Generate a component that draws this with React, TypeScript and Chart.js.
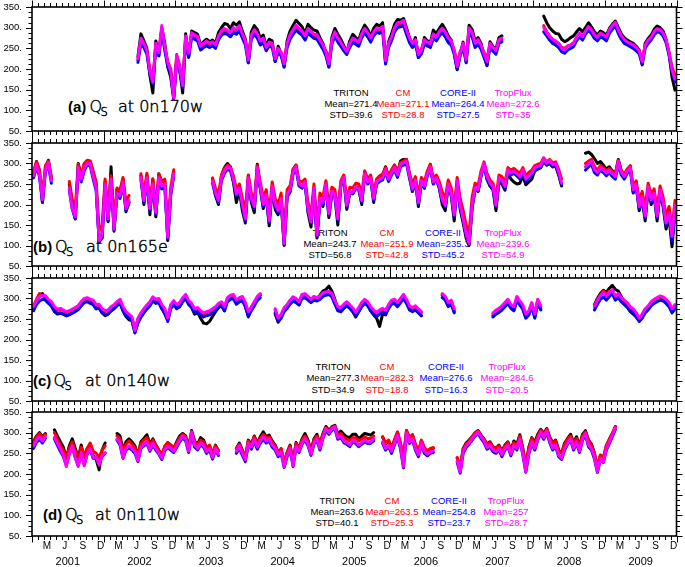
import React, { useEffect, useRef } from "react";
import { Chart, registerables } from "chart.js";

Chart.register(...registerables);

// ---------- axis data ----------
const X_MIN = 0; // months since Jan 2001
const X_MAX = 108; // Jan 2010
const SAMPLE_OFFSET = 0.25; // first half-month sample (months)
const SAMPLE_STEP = 0.5; // half-month sampling
const YEARS = [2001, 2002, 2003, 2004, 2005, 2006, 2007, 2008, 2009];
const MONTH_LABELS = ["M", "J", "S", "D"];
const MONTH_LABEL_MONTHS = [2, 5, 8, 11];
const Y_MIN = 50;
const Y_MAX = 350;
const Y_STEP = 50;
const Y_MINOR = 12.5;
const SERIES_NAMES = ["TRITON", "CM", "CORE-II", "TropFlux"];
const SERIES_COLORS = ["#000000", "#ff0000", "#0000ff", "#ff00ff"];

// ---------- panel (a) 0n170w ----------
const A_STARTS = [35, 171];
const A_TRITON = [
  [230, 285, 268, 250, 185, 142, 268, 232, 300, 262,
   205, 180, 128, 225, 198, 142, 285, 230, 292, 288,
   284, 258, 266, 272, 266, 270, 262, 288, 300, 310,
   308, 298, 312, 306, 314, 292, 272, 215, 290, 305,
   296, 275, 282, 256, 272, 268, 218, 255, 238, 205,
   268, 292, 305, 318, 310, 302, 286, 308, 300, 294,
   292, 276, 262, 236, 205, 276, 298, 284, 272, 256,
   240, 268, 284, 276, 270, 292, 306, 296, 280, 298,
   308, 304, 312, 214, 266, 285, 308, 320, 318, 322,
   300, 276, 258, 276, 228, 240, 276, 268, 264, 294,
   286, 298, 308, 296, 280, 270, 238, 198, 236, 265,
   218, 306, 296, 268, 276, 262, 232, 208, 266, 254,
   248, 276, 280],
  [328, 312, 300, 292, 286, 285, 272, 266, 270, 276,
   280, 290, 298, 290, 300, 312, 302, 290, 282, 292,
   288, 282, 298, 308, 316, 300, 285, 276, 270, 266,
   262, 255, 246, 210, 262, 274, 282, 296, 304, 300,
   292, 272, 236, 180, 149],
];
const A_CM = [
  [222, 270, 260, 242, 200, 175, 258, 242, 296, 252,
   218, 200, 142, 235, 208, 172, 272, 240, 282, 278,
   272, 252, 258, 264, 258, 262, 255, 276, 288, 292,
   290, 284, 295, 290, 300, 282, 265, 230, 278, 290,
   280, 265, 270, 250, 262, 255, 232, 246, 240, 220,
   258, 278, 290, 300, 294, 288, 276, 292, 286, 280,
   280, 268, 256, 244, 222, 266, 285, 272, 262, 250,
   245, 258, 270, 266, 262, 280, 292, 284, 272, 285,
   294, 290, 298, 228, 258, 274, 294, 305, 306, 312,
   292, 272, 262, 268, 240, 248, 266, 262, 258, 280,
   282, 286, 292, 285, 272, 265, 246, 215, 242, 258,
   228, 292, 284, 260, 268, 255, 240, 226, 258, 250,
   246, 266, 270],
  [305, 290, 280, 270, 265, 262, 252, 250, 256, 258,
   264, 275, 285, 276, 290, 300, 292, 280, 275, 285,
   280, 275, 292, 302, 310, 292, 278, 268, 264, 260,
   256, 250, 242, 222, 255, 268, 275, 288, 295, 292,
   284, 268, 240, 205, 185],
];
const A_CORE = [
  [216, 262, 252, 236, 188, 165, 252, 232, 292, 245,
   206, 188, 128, 222, 196, 155, 268, 228, 276, 272,
   268, 246, 252, 256, 252, 256, 250, 270, 282, 286,
   284, 278, 288, 284, 292, 275, 258, 215, 272, 284,
   275, 258, 264, 244, 256, 252, 218, 240, 232, 205,
   252, 272, 284, 294, 287, 282, 270, 286, 280, 274,
   272, 260, 248, 232, 205, 260, 280, 265, 255, 244,
   235, 252, 265, 260, 255, 275, 288, 278, 265, 280,
   289, 286, 292, 212, 252, 268, 290, 300, 302, 306,
   284, 264, 252, 260, 228, 236, 260, 256, 252, 274,
   268, 280, 288, 278, 264, 258, 236, 200, 232, 252,
   215, 288, 278, 252, 260, 248, 228, 210, 252, 243,
   236, 262, 266],
  [290, 280, 270, 262, 258, 252, 242, 238, 246, 250,
   254, 268, 278, 270, 284, 294, 286, 274, 268, 278,
   274, 268, 286, 296, 304, 286, 272, 262, 258, 254,
   250, 244, 236, 212, 250, 262, 270, 282, 290, 288,
   280, 264, 234, 195, 168],
];
const A_TROPFLUX = [
  [225, 275, 262, 245, 195, 168, 262, 240, 305, 255,
   215, 195, 130, 232, 205, 160, 280, 238, 288, 283,
   278, 255, 262, 268, 262, 266, 258, 280, 292, 298,
   294, 288, 300, 295, 305, 285, 268, 222, 282, 295,
   285, 268, 275, 252, 265, 262, 225, 250, 240, 212,
   262, 283, 295, 306, 298, 292, 280, 298, 290, 285,
   283, 270, 258, 240, 212, 270, 290, 275, 265, 252,
   243, 262, 275, 270, 265, 285, 298, 288, 275, 290,
   299, 296, 303, 220, 262, 278, 300, 312, 312, 318,
   295, 275, 262, 271, 235, 245, 271, 265, 262, 285,
   277, 290, 299, 289, 275, 268, 244, 206, 240, 262,
   222, 299, 289, 262, 271, 258, 236, 218, 262, 252,
   245, 271, 275],
  [300, 288, 278, 272, 268, 262, 250, 246, 255, 258,
   262, 277, 287, 278, 292, 303, 295, 282, 277, 287,
   282, 277, 295, 305, 313, 295, 280, 271, 266, 262,
   258, 252, 244, 218, 258, 270, 277, 290, 298, 295,
   287, 271, 240, 198, 175],
];
const A_MEAN = ["271.4", "271.1", "264.4", "272.6"];
const A_STD = ["39.6", "28.8", "27.5", "35"];

// ---------- panel (b) 0n165e ----------
const B_STARTS = [0, 12, 36, 60, 185];
const B_TRITON = [
  [272, 305, 280, 205, 290, 308, 262],
  [250, 200, 165, 300, 270, 298, 306, 305, 278, 248, 108, 118, 255, 158, 292, 135, 238, 230, 262, 182, 205],
  [270, 200, 272, 175, 262, 170, 275, 255, 258, 112, 225, 280],
  [262, 222, 200, 270, 290, 300, 292, 255, 205, 235,
   185, 155, 270, 205, 180, 298, 240, 190, 220, 148,
   242, 188, 175, 205, 100, 218, 232, 285, 296, 248,
   242, 258, 180, 145, 236, 118, 208, 195, 252, 168,
   228, 220, 150, 248, 268, 188, 228, 226, 240, 238,
   200, 278, 252, 268, 205, 258, 265, 270, 292, 265,
   282, 296, 276, 306, 310, 310, 272, 232, 262, 195,
   260, 240, 278, 298, 252, 266, 240, 200, 185, 248,
   222, 160, 255, 188, 155, 118, 100, 190, 238, 232,
   270, 296, 262, 245, 236, 185, 255, 250, 235, 275,
   262, 255, 250, 252, 270, 248, 255, 262, 282, 286,
   290, 305, 296, 300, 292, 294, 272, 245],
  [325, 328, 322, 312, 300, 305, 296, 286, 292, 282,
   275, 310, 282, 272, 286, 294, 228, 246, 185, 212,
   160, 240, 200, 222, 160, 232, 195, 140, 168, 97, 185],
];
const B_CM = [
  [280, 304, 285, 220, 295, 306, 268],
  [256, 212, 190, 298, 272, 300, 308, 306, 282, 255, 135, 150, 262, 185, 270, 160, 240, 235, 266, 205, 222],
  [275, 225, 276, 205, 262, 195, 274, 256, 262, 140, 242, 285],
  [265, 240, 225, 272, 288, 296, 292, 270, 238, 250,
   215, 185, 272, 228, 210, 295, 255, 215, 236, 178,
   255, 215, 200, 228, 130, 236, 246, 286, 296, 258,
   255, 262, 205, 175, 250, 145, 228, 218, 258, 195,
   242, 236, 185, 258, 272, 212, 242, 240, 252, 250,
   225, 282, 262, 272, 230, 262, 270, 274, 290, 270,
   285, 296, 280, 302, 306, 310, 278, 250, 268, 222,
   266, 255, 282, 298, 265, 272, 256, 230, 215, 260,
   240, 192, 266, 215, 185, 150, 130, 218, 252, 246,
   282, 304, 275, 260, 252, 215, 272, 268, 254, 290,
   284, 288, 282, 276, 290, 270, 278, 284, 295, 298,
   300, 314, 304, 310, 302, 304, 286, 262],
  [300, 306, 310, 292, 284, 295, 290, 282, 288, 280,
   274, 308, 282, 274, 286, 294, 246, 258, 210, 232,
   190, 252, 225, 238, 188, 245, 218, 172, 195, 140, 210],
];
const B_CORE = [
  [265, 292, 268, 205, 280, 296, 252],
  [235, 188, 165, 284, 255, 282, 296, 294, 262, 234, 110, 122, 245, 160, 256, 138, 222, 215, 250, 186, 205],
  [260, 205, 258, 186, 244, 176, 258, 238, 244, 118, 225, 268],
  [252, 222, 205, 258, 276, 286, 282, 256, 220, 234,
   195, 160, 258, 210, 190, 284, 240, 195, 220, 155,
   240, 195, 180, 210, 102, 220, 230, 274, 286, 245,
   240, 250, 186, 155, 235, 122, 210, 200, 244, 174,
   228, 222, 162, 245, 260, 194, 228, 226, 240, 236,
   206, 270, 250, 260, 210, 250, 256, 260, 280, 256,
   272, 284, 266, 292, 296, 300, 264, 232, 254, 200,
   252, 240, 270, 286, 250, 260, 240, 208, 194, 245,
   224, 172, 252, 194, 162, 126, 104, 196, 238, 232,
   270, 295, 262, 246, 238, 194, 260, 255, 238, 280,
   272, 276, 270, 262, 280, 256, 264, 272, 284, 288,
   290, 306, 296, 302, 292, 295, 274, 248],
  [284, 292, 298, 278, 272, 284, 278, 270, 278, 268,
   262, 298, 272, 262, 276, 284, 230, 244, 190, 214,
   168, 238, 206, 222, 168, 230, 200, 150, 175, 110, 192],
];
const B_TROPFLUX = [
  [270, 298, 272, 212, 285, 303, 258],
  [240, 190, 170, 290, 262, 289, 302, 300, 268, 240, 112, 125, 250, 165, 262, 140, 228, 222, 255, 190, 210],
  [266, 210, 265, 190, 250, 180, 265, 245, 250, 120, 230, 275],
  [258, 228, 210, 265, 282, 292, 288, 262, 225, 240,
   200, 165, 265, 215, 195, 290, 245, 200, 225, 160,
   245, 200, 185, 215, 105, 225, 236, 280, 292, 250,
   245, 255, 190, 158, 240, 125, 215, 205, 250, 178,
   232, 226, 165, 250, 266, 198, 232, 230, 244, 240,
   210, 275, 255, 265, 215, 255, 262, 266, 285, 262,
   278, 290, 272, 298, 302, 305, 270, 238, 260, 205,
   258, 245, 275, 292, 255, 265, 245, 212, 198, 250,
   228, 175, 258, 198, 165, 128, 105, 200, 242, 236,
   275, 300, 268, 252, 244, 198, 265, 260, 244, 285,
   277, 282, 275, 268, 285, 262, 270, 277, 290, 293,
   296, 312, 301, 308, 297, 300, 280, 252],
  [292, 300, 305, 285, 278, 290, 285, 277, 284, 275,
   268, 305, 278, 268, 282, 290, 236, 250, 195, 220,
   172, 244, 212, 228, 172, 236, 205, 155, 180, 122, 200],
];
const B_MEAN = ["243.7", "251.9", "235.3", "239.6"];
const B_STD = ["56.8", "42.8", "45.2", "54.9"];

// ---------- panel (c) 0n140w ----------
const C_STARTS = [0, 81, 137, 154, 188];
const C_TRITON = [
  [275, 290, 310, 312, 300, 290, 282, 268, 262, 264,
   262, 258, 262, 266, 270, 275, 286, 294, 296, 290,
   288, 275, 278, 265, 258, 262, 270, 276, 286, 292,
   270, 256, 248, 246, 218, 240, 255, 266, 276, 285,
   298, 292, 294, 276, 262, 248, 278, 290, 276, 282,
   296, 306, 288, 278, 262, 266, 252, 240, 238, 244,
   256, 268, 278, 286, 270, 296, 304, 306, 290, 296,
   300, 282, 255, 272, 286, 300, 308],
  [262, 242, 255, 272, 280, 292, 300, 296, 290, 308,
   310, 302, 296, 304, 300, 308, 318, 322, 330, 318,
   298, 272, 268, 276, 284, 278, 268, 255, 268, 282,
   290, 285, 270, 260, 252, 232, 262, 260, 278, 290,
   292, 284, 294, 306, 292, 276, 270, 274, 266, 258],
  [308, 300, 285, 290, 268],
  [258, 266, 270, 278, 285, 292, 278, 272, 300, 290, 276, 255, 262, 284, 255, 292, 275],
  [285, 300, 312, 320, 315, 325, 332, 322, 318, 305,
   290, 280, 268, 262, 255, 246, 256, 270, 278, 288,
   296, 300, 304, 300, 292, 284, 270, 278],
];
const C_CM = [
  [282, 298, 312, 306, 304, 295, 288, 278, 272, 274,
   270, 266, 268, 272, 276, 280, 290, 298, 300, 296,
   294, 282, 284, 272, 268, 270, 278, 282, 290, 296,
   278, 266, 260, 252, 226, 250, 262, 272, 282, 290,
   300, 296, 298, 282, 272, 252, 282, 292, 282, 288,
   300, 306, 292, 285, 272, 275, 268, 262, 265, 268,
   272, 278, 285, 290, 278, 300, 305, 308, 294, 300,
   302, 288, 265, 278, 290, 302, 308],
  [272, 248, 258, 275, 282, 294, 302, 298, 290, 306,
   310, 302, 296, 302, 300, 304, 312, 314, 316, 310,
   292, 278, 274, 284, 290, 282, 274, 262, 275, 288,
   296, 290, 278, 270, 262, 268, 272, 268, 282, 294,
   296, 288, 298, 306, 295, 280, 275, 280, 272, 265],
  [310, 304, 288, 294, 272],
  [262, 270, 274, 280, 288, 296, 282, 278, 302, 292, 280, 260, 268, 288, 260, 296, 280],
  [280, 294, 306, 318, 310, 318, 316, 304, 310, 300,
   294, 288, 278, 272, 262, 250, 260, 272, 280, 290,
   296, 300, 304, 302, 296, 288, 272, 282],
];
const C_CORE = [
  [270, 285, 294, 298, 296, 288, 282, 270, 264, 265,
   262, 258, 260, 264, 268, 273, 282, 290, 292, 288,
   285, 275, 276, 265, 260, 262, 270, 275, 282, 288,
   270, 258, 252, 246, 216, 242, 255, 265, 274, 282,
   294, 288, 290, 275, 265, 244, 275, 285, 275, 280,
   292, 300, 285, 278, 265, 268, 260, 255, 258, 260,
   265, 270, 278, 282, 270, 292, 298, 300, 286, 292,
   295, 280, 258, 270, 282, 295, 302],
  [265, 245, 252, 268, 276, 286, 294, 290, 284, 300,
   302, 296, 290, 296, 294, 298, 305, 308, 310, 304,
   286, 270, 268, 276, 282, 276, 268, 258, 268, 280,
   288, 282, 270, 262, 256, 262, 266, 262, 275, 286,
   288, 280, 290, 300, 288, 272, 268, 272, 265, 258],
  [302, 296, 280, 286, 265],
  [255, 262, 266, 272, 280, 288, 276, 270, 295, 284, 274, 252, 260, 280, 252, 288, 272],
  [272, 286, 298, 304, 296, 305, 312, 296, 302, 292,
   285, 278, 270, 265, 255, 244, 252, 265, 272, 282,
   288, 292, 296, 294, 288, 280, 265, 275],
];
const C_TROPFLUX = [
  [280, 295, 304, 308, 307, 298, 292, 280, 274, 276,
   272, 268, 270, 274, 278, 283, 292, 300, 302, 298,
   296, 285, 286, 275, 270, 272, 280, 285, 292, 298,
   280, 268, 262, 255, 222, 252, 265, 275, 284, 292,
   304, 298, 300, 285, 275, 252, 285, 295, 285, 290,
   302, 310, 295, 288, 275, 278, 270, 265, 268, 270,
   275, 280, 288, 292, 280, 302, 308, 310, 296, 302,
   305, 290, 268, 280, 292, 305, 312],
  [275, 252, 262, 278, 285, 296, 304, 300, 292, 310,
   312, 305, 298, 305, 302, 306, 314, 316, 318, 312,
   295, 280, 278, 286, 292, 285, 277, 266, 278, 290,
   298, 292, 280, 272, 266, 272, 276, 272, 285, 296,
   298, 290, 300, 310, 298, 282, 278, 282, 275, 268],
  [312, 305, 290, 296, 275],
  [265, 272, 276, 282, 290, 298, 285, 280, 305, 294, 284, 262, 270, 290, 262, 298, 282],
  [282, 296, 308, 314, 306, 315, 322, 306, 312, 302,
   296, 290, 280, 275, 265, 252, 262, 275, 282, 292,
   298, 302, 306, 304, 298, 290, 275, 285],
];
const C_MEAN = ["277.3", "282.3", "276.6", "284.6"];
const C_STD = ["34.9", "18.8", "16.3", "20.5"];

// ---------- panel (d) 0n110w ----------
const D_STARTS = [0, 7, 28, 68, 117, 142];
const D_TRITON = [
  [278, 292, 300, 290, 298],
  [307, 292, 278, 265, 238, 268, 285, 262, 240, 270, 240, 262, 268, 245, 235, 210, 258, 275],
  [298, 292, 258, 278, 285, 278, 268, 245, 278, 286,
   295, 272, 285, 270, 258, 242, 265, 276, 270, 262,
   278, 292, 298, 292, 265, 305, 280, 272, 288, 282,
   262, 268, 245, 270, 256],
  [262, 275, 258, 240, 282, 272, 292, 275, 290, 302,
   290, 294, 280, 270, 252, 260, 225, 252, 270, 228,
   276, 262, 285, 298, 282, 256, 285, 296, 272, 298,
   315, 306, 314, 318, 296, 304, 296, 290, 288, 296,
   296, 285, 292, 298, 296, 294, 300],
  [290, 272, 280, 262, 282, 300, 272, 235, 305, 286, 295, 270, 250, 280, 262, 245, 258, 262],
  [238, 215, 262, 275, 282, 290, 300, 305, 294, 285,
   272, 278, 266, 262, 270, 255, 270, 278, 258, 280,
   272, 295, 262, 218, 265, 288, 276, 296, 308, 298,
   310, 290, 275, 282, 258, 250, 275, 286, 296, 276,
   290, 268, 296, 305, 282, 272, 250, 215, 245, 238,
   268, 284, 298, 315],
];
const D_CM = [
  [275, 290, 298, 288, 296],
  [300, 285, 270, 258, 240, 262, 278, 256, 236, 265, 245, 262, 275, 255, 250, 240, 258, 268],
  [292, 286, 252, 272, 280, 272, 264, 245, 274, 282,
   288, 268, 282, 270, 258, 248, 268, 276, 270, 264,
   275, 288, 296, 290, 262, 300, 278, 270, 282, 278,
   262, 270, 250, 268, 256],
  [262, 272, 256, 242, 280, 270, 290, 272, 286, 296,
   288, 290, 276, 268, 252, 262, 228, 252, 268, 232,
   274, 262, 282, 292, 278, 255, 282, 292, 270, 295,
   312, 304, 312, 316, 292, 298, 288, 284, 280, 288,
   288, 280, 284, 290, 286, 286, 292],
  [290, 275, 282, 265, 282, 302, 276, 240, 305, 288, 295, 272, 255, 282, 264, 256, 262, 264],
  [240, 212, 260, 272, 280, 290, 298, 304, 292, 284,
   270, 276, 264, 262, 268, 254, 268, 276, 256, 276,
   270, 292, 260, 220, 262, 286, 272, 292, 306, 295,
   308, 288, 272, 280, 256, 250, 272, 284, 292, 272,
   286, 266, 292, 302, 280, 270, 250, 218, 246, 240,
   270, 284, 298, 314],
];
const D_CORE = [
  [262, 276, 284, 275, 286],
  [285, 270, 255, 242, 222, 248, 265, 240, 220, 250, 222, 248, 258, 238, 238, 225, 242, 250],
  [282, 270, 238, 258, 264, 258, 250, 230, 262, 268,
   274, 255, 270, 258, 248, 235, 256, 264, 258, 252,
   264, 278, 288, 280, 252, 296, 265, 258, 270, 265,
   250, 258, 236, 258, 245],
  [250, 262, 245, 230, 270, 260, 278, 260, 274, 284,
   275, 280, 265, 258, 242, 250, 216, 242, 258, 218,
   264, 252, 272, 282, 268, 245, 272, 282, 258, 286,
   305, 296, 305, 310, 284, 288, 276, 272, 266, 278,
   274, 266, 272, 278, 274, 274, 280],
  [274, 258, 266, 250, 270, 290, 260, 215, 296, 274, 282, 258, 242, 272, 250, 244, 250, 252],
  [228, 202, 250, 264, 272, 282, 292, 298, 286, 276,
   260, 265, 254, 250, 258, 242, 258, 265, 244, 266,
   258, 282, 246, 204, 248, 274, 258, 282, 298, 284,
   300, 276, 258, 266, 242, 235, 258, 272, 282, 258,
   274, 252, 282, 294, 266, 258, 236, 204, 235, 228,
   258, 274, 290, 308],
];
const D_TROPFLUX = [
  [268, 282, 290, 280, 292],
  [288, 275, 260, 245, 218, 250, 268, 240, 218, 252, 220, 250, 262, 240, 242, 222, 245, 252],
  [285, 275, 240, 262, 268, 262, 255, 232, 265, 272,
   278, 258, 275, 262, 250, 238, 260, 268, 262, 255,
   268, 282, 292, 285, 255, 302, 270, 262, 275, 270,
   254, 262, 240, 262, 248],
  [255, 268, 250, 235, 275, 265, 284, 265, 280, 290,
   280, 285, 270, 262, 246, 254, 218, 245, 262, 220,
   268, 255, 276, 286, 272, 248, 276, 286, 262, 290,
   310, 300, 310, 314, 288, 292, 280, 276, 270, 282,
   278, 270, 276, 282, 278, 278, 285],
  [278, 262, 270, 255, 275, 294, 265, 218, 300, 278, 286, 262, 246, 276, 255, 248, 254, 256],
  [232, 205, 255, 268, 276, 285, 296, 302, 290, 280,
   264, 270, 258, 254, 262, 246, 262, 270, 248, 270,
   262, 285, 250, 206, 252, 278, 262, 285, 302, 288,
   305, 280, 262, 270, 246, 238, 262, 275, 286, 262,
   278, 255, 285, 298, 270, 262, 240, 206, 238, 230,
   262, 278, 294, 312],
];
const D_MEAN = ["263.6", "263.5", "254.8", "257"];
const D_STD = ["40.1", "25.3", "23.7", "28.7"];

// ---------- panels ----------
const PANELS = [
  { tag: "(a)", site: "at 0n170w", starts: A_STARTS, series: [A_TRITON, A_CM, A_CORE, A_TROPFLUX], mean: A_MEAN, std: A_STD },
  { tag: "(b)", site: "at 0n165e", starts: B_STARTS, series: [B_TRITON, B_CM, B_CORE, B_TROPFLUX], mean: B_MEAN, std: B_STD },
  { tag: "(c)", site: "at 0n140w", starts: C_STARTS, series: [C_TRITON, C_CM, C_CORE, C_TROPFLUX], mean: C_MEAN, std: C_STD },
  { tag: "(d)", site: "at 0n110w", starts: D_STARTS, series: [D_TRITON, D_CM, D_CORE, D_TROPFLUX], mean: D_MEAN, std: D_STD },
];

// ---------- layout (pixels) ----------
const W = 685;
const H = 567;
const PLOT_LEFT = 32;
const PLOT_RIGHT = 676.5;
const AREA_TOP = [7, 143, 278, 412];
const AREA_BOTTOM = [131, 266, 401, 536];
const PAD = 7;
const MONTH_AXIS_H = 16;
const YEAR_AXIS_H = 15;
const LABEL_LAYOUT = [
  { tagX: 68, qX: 89.5, sX: 100.5, atX: 118, base: 111.5 },
  { tagX: 33, qX: 55, sX: 66, atX: 86, base: 251.5 },
  { tagX: 33, qX: 53.5, sX: 64.5, atX: 85, base: 385.5 },
  { tagX: 43, qX: 65, sX: 76, atX: 95, base: 519.5 },
];
const STATS_LAYOUT = [
  { cols: [351, 403, 458, 513], rows: [93, 104, 115] },
  { cols: [330, 387, 443, 503], rows: [232.5, 243.5, 255] },
  { cols: [333, 387, 446, 507], rows: [366.5, 377.7, 389.3] },
  { cols: [337, 392, 449, 506], rows: [500.7, 511.7, 522.7] },
];

const MONTH_TICK_VALUES: number[] = [];
const MONTH_TICK_TEXT: string[] = [];
YEARS.forEach((_y, yi) => {
  MONTH_LABEL_MONTHS.forEach((m, mi) => {
    MONTH_TICK_VALUES.push(12 * yi + m + 0.5);
    MONTH_TICK_TEXT.push(MONTH_LABELS[mi]);
  });
});

function toPoints(starts: number[], segs: number[][]) {
  const pts: { x: number; y: number | null }[] = [];
  segs.forEach((seg, i) => {
    if (i > 0) pts.push({ x: SAMPLE_OFFSET + SAMPLE_STEP * (starts[i] - 0.5), y: null });
    seg.forEach((v, j) => pts.push({ x: SAMPLE_OFFSET + SAMPLE_STEP * (starts[i] + j), y: v }));
  });
  return pts;
}

const framePlugin = {
  id: "nclFrame",
  afterDraw(chart: any) {
    const { ctx, chartArea: a, scales } = chart;
    const xs = scales.x;
    const ys = scales.y;
    ctx.save();
    ctx.strokeStyle = "#000";
    ctx.lineWidth = 1;
    ctx.beginPath();
    for (let m = X_MIN; m <= X_MAX; m++) {
      const px = Math.round(xs.getPixelForValue(m)) + 0.5;
      const len = m % 12 === 0 ? 6.5 : 4;
      ctx.moveTo(px, a.top);
      ctx.lineTo(px, a.top - len);
      ctx.moveTo(px, a.bottom);
      ctx.lineTo(px, a.bottom + len);
    }
    for (let v = Y_MIN; v <= Y_MAX + 0.01; v += Y_MINOR) {
      const py = Math.round(ys.getPixelForValue(v)) + 0.5;
      const len = v % Y_STEP === 0 ? 6 : 3.5;
      ctx.moveTo(a.left, py);
      ctx.lineTo(a.left - len, py);
      ctx.moveTo(a.right, py);
      ctx.lineTo(a.right + len, py);
    }
    ctx.stroke();
    ctx.lineWidth = 1.6;
    ctx.strokeRect(a.left, a.top, a.right - a.left, a.bottom - a.top);
    ctx.restore();
  },
};

function canvasTop(i: number) {
  return AREA_TOP[i] - PAD;
}
function canvasHeight(i: number) {
  const last = i === PANELS.length - 1;
  return AREA_BOTTOM[i] - AREA_TOP[i] + PAD + (last ? MONTH_AXIS_H + YEAR_AXIS_H : PAD);
}

function noPad(s: any) {
  s.paddingTop = 0;
  s.paddingBottom = 0;
  s.paddingLeft = 0;
  s.paddingRight = 0;
}

function makeConfig(p: any, i: number): any {
  const last = i === PANELS.length - 1;
  const order = [3, 2, 1, 0]; // TropFlux on top
  const datasets = p.series.map((segs: number[][], si: number) => ({
    label: SERIES_NAMES[si],
    data: toPoints(p.starts, segs),
    borderColor: SERIES_COLORS[si],
    backgroundColor: SERIES_COLORS[si],
    borderWidth: 3,
    pointRadius: 0,
    tension: 0,
    spanGaps: false,
    borderJoinStyle: "round",
    borderCapStyle: "round",
    order: order[si],
  }));
  const scales: any = {
    x: {
      type: "linear",
      min: X_MIN,
      max: X_MAX,
      display: last,
      position: "bottom",
      weight: 0,
      afterBuildTicks: (s: any) => {
        s.ticks = MONTH_TICK_VALUES.map((v) => ({ value: v }));
      },
      afterFit: (s: any) => {
        if (last) s.height = MONTH_AXIS_H;
        noPad(s);
      },
      ticks: {
        autoSkip: false,
        maxRotation: 0,
        minRotation: 0,
        padding: 4,
        color: "#000",
        font: { size: 10 },
        callback: (_v: any, idx: number) => MONTH_TICK_TEXT[idx],
      },
      grid: { display: false, drawTicks: false },
      border: { display: false },
    },
    y: {
      type: "linear",
      min: Y_MIN,
      max: Y_MAX,
      afterFit: (s: any) => {
        s.width = PLOT_LEFT;
        noPad(s);
      },
      ticks: {
        stepSize: Y_STEP,
        padding: 10,
        color: "#000",
        font: { size: 9.5 },
        callback: (v: any) => `${v}.`,
      },
      grid: { display: false, drawTicks: false },
      border: { display: false },
    },
  };
  if (last) {
    scales.xYear = {
      type: "linear",
      axis: "x",
      position: "bottom",
      weight: 1,
      min: X_MIN,
      max: X_MAX,
      afterBuildTicks: (s: any) => {
        s.ticks = YEARS.map((_y, yi) => ({ value: 12 * yi + 6 }));
      },
      afterFit: (s: any) => {
        s.height = YEAR_AXIS_H;
        noPad(s);
      },
      ticks: {
        autoSkip: false,
        maxRotation: 0,
        minRotation: 0,
        padding: 3,
        color: "#000",
        font: { size: 11 },
        callback: (_v: any, idx: number) => String(YEARS[idx]),
      },
      grid: { display: false, drawTicks: false },
      border: { display: false },
    };
  }
  return {
    type: "line",
    data: { datasets },
    options: {
      animation: false,
      responsive: false,
      maintainAspectRatio: false,
      devicePixelRatio: 1,
      events: [],
      layout: { padding: { top: PAD, bottom: last ? 0 : PAD, left: 0, right: W - PLOT_RIGHT } },
      plugins: { legend: { display: false }, tooltip: { enabled: false }, title: { display: false } },
      scales,
    },
    plugins: [framePlugin],
  };
}

export default function App() {
  const r0 = useRef<HTMLCanvasElement | null>(null);
  const r1 = useRef<HTMLCanvasElement | null>(null);
  const r2 = useRef<HTMLCanvasElement | null>(null);
  const r3 = useRef<HTMLCanvasElement | null>(null);
  const refs = [r0, r1, r2, r3];

  useEffect(() => {
    Chart.defaults.font.family = '"Liberation Sans", Arial, Helvetica, sans-serif';
    Chart.defaults.color = "#000";
    const charts = PANELS.map((p, i) => new Chart(refs[i].current as HTMLCanvasElement, makeConfig(p, i)));
    return () => charts.forEach((c) => c.destroy());
  }, []);

  const thin = { fontFamily: '"DejaVu Sans", sans-serif', fontWeight: 200, fill: "#000", stroke: "#000", strokeWidth: 0.45 } as any;

  return (
    <div style={{ position: "fixed", left: 0, top: 0, width: W, height: H, background: "#fff", overflow: "hidden" }}>
      <svg
        width={W}
        height={H}
        style={{ position: "absolute", left: 0, top: 0, pointerEvents: "none" }}
      >
        {PANELS.map((p, i) => {
          const L = LABEL_LAYOUT[i];
          const S = STATS_LAYOUT[i];
          return (
            <g key={i}>
              <text x={L.tagX} y={L.base} fontFamily='"Liberation Sans", Arial, sans-serif' fontWeight="bold" fontSize={15} fill="#000">
                {p.tag}
              </text>
              <text x={L.qX} y={L.base} fontSize={16} {...thin}>
                Q
              </text>
              <text x={L.sX} y={L.base + 4} fontSize={11.5} {...thin}>
                S
              </text>
              <text x={L.atX} y={L.base} fontSize={16} {...thin}>
                {p.site}
              </text>
              {SERIES_NAMES.map((name, si) => (
                <g key={si} fill={SERIES_COLORS[si]} fontFamily='"Liberation Sans", Arial, sans-serif' fontSize={9.5} textAnchor="middle">
                  <text x={S.cols[si]} y={S.rows[0] + 3.4}>{name}</text>
                  <text x={S.cols[si]} y={S.rows[1] + 3.4}>{`Mean=${p.mean[si]}`}</text>
                  <text x={S.cols[si]} y={S.rows[2] + 3.4}>{`STD=${p.std[si]}`}</text>
                </g>
              ))}
            </g>
          );
        })}
      </svg>
      {PANELS.map((_p, i) => (
        <canvas
          key={i}
          ref={refs[i]}
          width={W}
          height={canvasHeight(i)}
          style={{ position: "absolute", left: 0, top: canvasTop(i), width: W, height: canvasHeight(i) }}
        />
      ))}
    </div>
  );
}
